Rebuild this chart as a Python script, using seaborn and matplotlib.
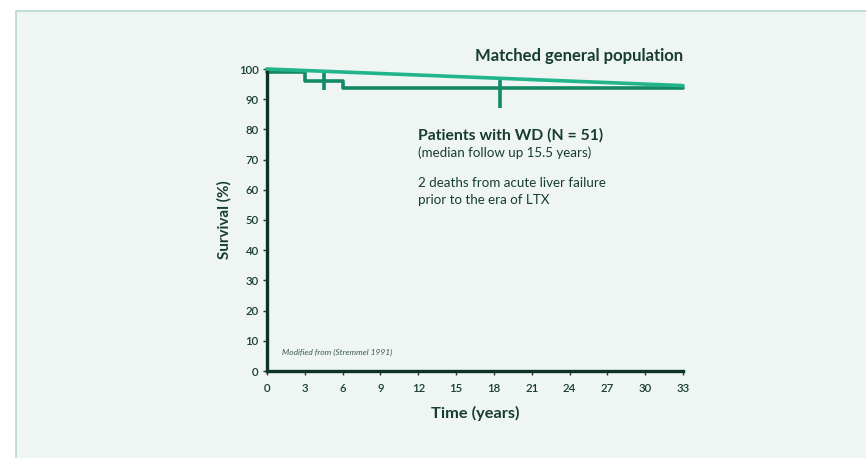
import matplotlib
matplotlib.use("Agg")
import matplotlib.pyplot as plt
import seaborn as sns
import pandas as pd
from matplotlib.patches import Rectangle

# data
wd_time = [0, 3, 6, 33]
wd_surv = [99.0, 96.0, 93.6, 93.6]
censor_time = [4.5, 18.5]
censor_top = [99.0, 96.4]
censor_bottom = [93.0, 87.1]
pop_time = [0, 33]
pop_surv = [100.0, 94.5]
xticks = list(range(0, 34, 3))
yticks = list(range(0, 101, 10))

sns.set_theme(style="white")
plt.rcParams['font.family'] = ['Lato', 'DejaVu Sans']

dark = "#163d30"
wd_col = "#138a66"
pop_col = "#22b58b"
panel = "#eef5f2"

fig = plt.figure(figsize=(8.66, 4.58), dpi=100)
fig.patch.set_facecolor("white")
fig.patches.append(Rectangle((16 / 866, -0.01), 1.0, 1 - 11 / 458 + 0.01,
                             transform=fig.transFigure, facecolor=panel,
                             edgecolor="#b9d9cd", linewidth=1.2, zorder=-10))

ax = fig.add_axes([267 / 866, 1 - 371 / 458, 416 / 866, 302 / 458])
ax.set_facecolor("none")

pop_df = pd.DataFrame({"time": pop_time, "surv": pop_surv})
wd_df = pd.DataFrame({"time": wd_time, "surv": wd_surv})
sns.lineplot(data=pop_df, x="time", y="surv", color=pop_col, linewidth=2.6, ax=ax,
             clip_on=False, zorder=3)
sns.lineplot(data=wd_df, x="time", y="surv", color=wd_col, linewidth=2.6, ax=ax,
             drawstyle="steps-post", clip_on=False, zorder=2)
ax.vlines(censor_time, censor_bottom, censor_top, color=wd_col, linewidth=2.6, zorder=2)

ax.set_xlim(0, 33)
ax.set_ylim(0, 100)
ax.set_xticks(xticks)
ax.set_yticks(yticks)
ax.tick_params(axis="both", which="both", direction="out", length=3, width=1,
               color=dark, labelcolor=dark, labelsize=8.2, bottom=True, left=True)
ax.tick_params(axis="x", pad=6)
ax.tick_params(axis="y", pad=3)
for lab in ax.get_xticklabels() + ax.get_yticklabels():
    lab.set_fontweight("semibold")
for s in ["top", "right"]:
    ax.spines[s].set_visible(False)
for s in ["left", "bottom"]:
    ax.spines[s].set_color("#0d3328")
    ax.spines[s].set_linewidth(2.4)

ax.set_xlabel("Time (years)", fontsize=11.8, fontweight="bold", color=dark, labelpad=8)
ax.set_ylabel("Survival (%)", fontsize=11, fontweight="bold", color=dark, labelpad=5)

ax.text(33, 101.5, "Matched general population", ha="right", va="bottom",
        fontsize=12, fontweight="bold", color=dark)
ax.text(12.0, 78.2, "Patients with WD (N = 51)", ha="left", va="center",
        fontsize=11.3, fontweight="bold", color=dark)
ax.text(12.0, 72.2, "(median follow up 15.5 years)", ha="left", va="center",
        fontsize=9.6, color=dark)
ax.text(12.0, 62.3, "2 deaths from acute liver failure", ha="left", va="center",
        fontsize=9.6, color=dark)
ax.text(12.0, 56.6, "prior to the era of LTX", ha="left", va="center",
        fontsize=9.6, color=dark)
ax.text(1.2, 6.2, "Modified from (Stremmel 1991)", ha="left", va="center",
        fontsize=6, style="italic", color="#3d5a50")

fig.savefig("out.png", dpi=100)
